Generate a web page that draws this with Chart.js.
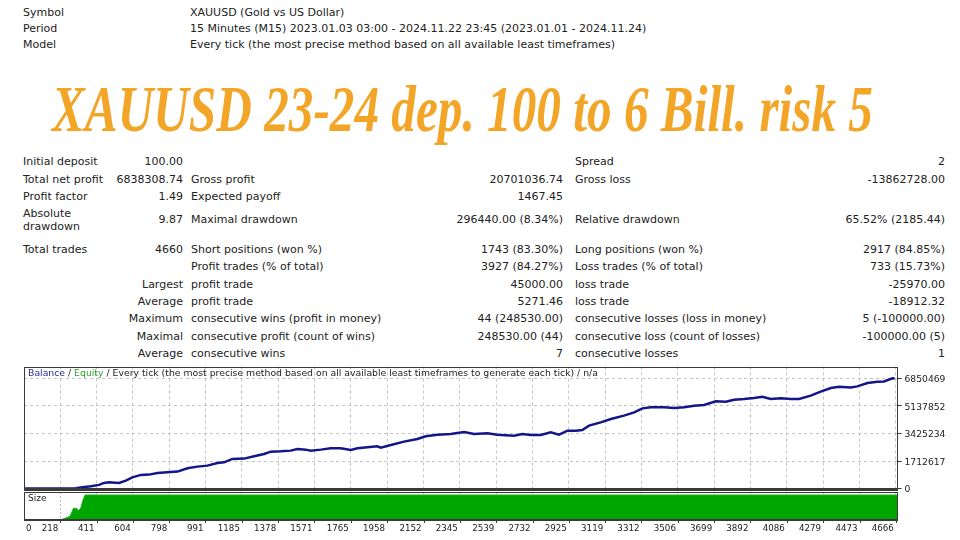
<!DOCTYPE html>
<html><head><meta charset="utf-8">
<script src="https://cdn.jsdelivr.net/npm/chart.js@4.4.1/dist/chart.umd.min.js"></script>
<style>
html,body{margin:0;padding:0;background:#fff;width:960px;height:540px;overflow:hidden;}
.t{position:absolute;font-family:"DejaVu Sans";font-size:11px;color:#222;white-space:pre;line-height:12px;}
#title{position:absolute;left:52px;top:76px;font-family:"Liberation Serif";font-style:italic;font-weight:bold;font-size:66px;line-height:66px;color:#F3A527;transform-origin:0 0;white-space:nowrap;display:inline-block;}
canvas{position:absolute;left:0;}
</style></head><body>
<div id="title">XAUUSD 23-24 dep. 100 to 6 Bill. risk 5</div>
<canvas id="c1" width="960" height="132" style="top:360px"></canvas>
<canvas id="c2" width="960" height="50" style="top:490px"></canvas>
<script>
// ---------- text data ----------
const headerLabels = ["Symbol", "Period", "Model"];
const headerValues = [
  "XAUUSD (Gold vs US Dollar)",
  "15 Minutes (M15) 2023.01.03 03:00 - 2024.11.22 23:45 (2023.01.01 - 2024.11.24)",
  "Every tick (the most precise method based on all available least timeframes)"
];
const colALabel = ["Initial deposit","Total net profit","Profit factor","Absolute\ndrawdown","Total trades","","","","","",""];
const colAValue = ["100.00","6838308.74","1.49","9.87","4660","","Largest","Average","Maximum","Maximal","Average"];
const colBLabel = ["","Gross profit","Expected payoff","Maximal drawdown","Short positions (won %)","Profit trades (% of total)","profit trade","profit trade","consecutive wins (profit in money)","consecutive profit (count of wins)","consecutive wins"];
const colBValue = ["","20701036.74","1467.45","296440.00 (8.34%)","1743 (83.30%)","3927 (84.27%)","45000.00","5271.46","44 (248530.00)","248530.00 (44)","7"];
const colCLabel = ["Spread","Gross loss","","Relative drawdown","Long positions (won %)","Loss trades (% of total)","loss trade","loss trade","consecutive losses (loss in money)","consecutive loss (count of losses)","consecutive losses"];
const colCValue = ["2","-13862728.00","","65.52% (2185.44)","2917 (84.85%)","733 (15.73%)","-25970.00","-18912.32","5 (-100000.00)","-100000.00 (5)","1"];

// ---------- chart data ----------
const balanceTrades = [0,150,250,300,336,381,425,451,478,531,567,602,647,691,735,788,842,895,948,1001,
  1055,1090,1134,1197,1250,1303,1339,1392,1445,1480,1525,1552,1605,1658,1711,1765,1800,1853,1906,1924,
  1978,2048,2119,2164,2226,2297,2332,2368,2421,2492,2545,2634,2678,2723,2776,2829,2873,2918,2962,2997,
  3033,3095,3149,3219,3273,3317,3362,3432,3486,3539,3592,3645,3708,3761,3805,3858,3911,3956,4000,4054,
  4107,4151,4213,4266,4320,4364,4426,4461,4515,4568,4603,4648,4660];
const balanceValues = [100,450,5200,28000,80700,142700,229600,353700,390900,353700,496400,701200,850100,868700,974200,1011400,1054900,1259700,1365100,1427200,
  1594700,1632000,1843000,1861600,2004300,2153200,2295900,2314500,2358000,2463500,2420000,2358000,2420000,2500700,2500700,2401400,2500700,2562700,2624800,2544100,
  2711700,2916400,3084000,3245300,3350800,3394200,3456300,3518400,3394200,3431500,3350800,3288800,3394200,3332200,3332200,3493500,3350800,3599000,3599000,3642500,
  3909300,4114000,4325000,4529800,4734600,4982800,5044800,5044800,5007600,5057200,5150300,5193800,5417100,5398500,5522600,5566100,5628100,5708800,5566100,5603300,
  5566100,5566100,5770800,6019000,6248600,6329300,6285900,6347900,6558900,6639600,6658200,6850469,6838409];
const sizeTrades = [0,120,219,244,270,288,302,315,327,338,350,4675];
const sizeLots   = [0.01,0.05,0.3,3.5,7.5,23,23.5,19,23.5,39,50,50];
const xTickLabels = [0,218,411,604,798,991,1185,1378,1571,1765,1958,2152,2345,2539,2732,2925,3119,3312,3506,3699,3892,4086,4279,4473,4666];
const yTickLabels = [0,1712617,3425234,5137852,6850469];
const xRange = [25, 4675];
const yRange = [-87000, 7583000];
const sizeRange = [0, 56];

// ---------- layout of text ----------
const headerY = [13, 29, 45];
const rowY = [162, 180, 197, 220, 250, 267, 285, 302, 319, 337, 354];
function addText(txt, x, yc, align, lh) {
  if (!txt) return;
  const d = document.createElement('div');
  d.className = 't';
  d.textContent = txt;
  const lines = txt.split('\n').length;
  const l = lh || 12;
  d.style.lineHeight = l + 'px';
  d.style.top = (yc - l * lines / 2) + 'px';
  if (align === 'right') { d.style.right = (960 - x) + 'px'; d.style.textAlign = 'right'; }
  else d.style.left = x + 'px';
  document.body.appendChild(d);
}
headerLabels.forEach((s, i) => { addText(s, 23, headerY[i]); addText(headerValues[i], 190, headerY[i]); });
rowY.forEach((y, i) => {
  addText(colALabel[i], 23, y, 'left', colALabel[i].includes('\n') ? 13 : 12);
  addText(colAValue[i], 183, y, 'right');
  addText(colBLabel[i], 191, y);
  addText(colBValue[i], 563, y, 'right');
  addText(colCLabel[i], 575, y);
  addText(colCValue[i], 945, y, 'right');
});
// title fit
const tEl = document.getElementById('title');
const tw = tEl.getBoundingClientRect().width;
tEl.style.transform = 'scaleX(' + (821 / tw) + ')';

// ---------- charts ----------
const FONT = '"DejaVu Sans"';
const gridGrey = '#c4c4c4';
const frameColor = '#3a3a3a';

const balancePts = balanceTrades.map((t, i) => ({x: t, y: balanceValues[i]}));
const sizePts = sizeTrades.map((t, i) => ({x: t, y: sizeLots[i]}));
const noPad = s => { s.paddingTop = 0; s.paddingBottom = 0; s.paddingLeft = 0; s.paddingRight = 0; };

const frame1 = {
  id: 'frame1',
  afterDraw(chart) {
    const {ctx, chartArea: a} = chart;
    ctx.save();
    ctx.strokeStyle = frameColor; ctx.lineWidth = 1;
    ctx.strokeRect(Math.round(a.left) + 0.5, Math.round(a.top) + 0.5, Math.round(a.right - a.left) - 1, Math.round(a.bottom - a.top) - 1);
    ctx.fillStyle = frameColor;
    ctx.fillRect(Math.round(a.left), Math.round(a.bottom) - 2, Math.round(a.right - a.left), 2);
    // header text
    ctx.font = '9.3px ' + FONT;
    ctx.textBaseline = 'middle';
    let x = a.left + 4; const y = a.top + 7;
    const segs = [['Balance', '#2a2a9c'], [' / ', '#222'], ['Equity', '#2ea82e'],
      [' / Every tick (the most precise method based on all available least timeframes to generate each tick) / n/a', '#222']];
    segs.forEach(([s, c]) => { ctx.fillStyle = c; ctx.fillText(s, x, y); x += ctx.measureText(s).width; });
    ctx.restore();
  }
};

new Chart(document.getElementById('c1'), {
  type: 'line',
  data: {datasets: [{data: balancePts, borderColor: '#15158a', borderWidth: 2.5, pointRadius: 0, tension: 0, fill: false}]},
  options: {
    responsive: false, animation: false, devicePixelRatio: 1,
    layout: {padding: {left: 24, top: 6.5, right: 0, bottom: 2}},
    plugins: {legend: {display: false}, tooltip: {enabled: false}},
    scales: {
      x: {
        type: 'linear', min: xRange[0], max: xRange[1],
        afterBuildTicks: s => { s.ticks = xTickLabels.filter(v => v >= xRange[0]).map(v => ({value: v})); },
        afterFit: s => { s.height = 0; noPad(s); },
        ticks: {display: false},
        grid: {color: gridGrey, lineWidth: 1, drawTicks: false},
        border: {display: false, dash: [3, 3]}
      },
      y: {
        position: 'right', min: yRange[0], max: yRange[1],
        afterBuildTicks: s => { s.ticks = yTickLabels.map(v => ({value: v})); },
        afterFit: s => { s.width = 62.5; noPad(s); },
        ticks: {color: '#222', font: {family: FONT, size: 9.2}, padding: 3, labelOffset: 1.5, callback: v => String(v)},
        grid: {color: c => (c.tick && c.tick.value === 0) ? 'rgba(0,0,0,0)' : gridGrey, lineWidth: 1, drawTicks: true, tickLength: 4, tickColor: frameColor},
        border: {display: false, dash: [3, 3]}
      }
    }
  },
  plugins: [frame1]
});

const frame2 = {
  id: 'frame2',
  afterDraw(chart) {
    const {ctx, chartArea: a} = chart;
    const xs = chart.scales.x;
    ctx.save();
    ctx.strokeStyle = frameColor; ctx.lineWidth = 1;
    ctx.strokeRect(Math.round(a.left) + 0.5, Math.round(a.top) + 0.5, Math.round(a.right - a.left) - 1, Math.round(a.bottom - a.top));
    ctx.fillStyle = frameColor;
    ctx.fillRect(Math.round(a.left), Math.round(a.bottom) - 1, Math.round(a.right - a.left), 2);
    ctx.fillStyle = '#222';
    ctx.font = '9px ' + FONT;
    ctx.textBaseline = 'middle';
    ctx.fillText('Size', a.left + 4, a.top + 7);
    ctx.font = '8.7px ' + FONT;
    xTickLabels.forEach(v => {
      const px = xs.getPixelForValue(Math.max(v, xRange[0]));
      if (v >= xRange[0]) {
        ctx.fillStyle = frameColor;
        ctx.fillRect(Math.round(px), Math.round(a.bottom), 1, 3);
      }
      ctx.fillStyle = '#222';
      if (v < xRange[0]) { ctx.textAlign = 'left'; ctx.fillText(String(v), a.left + 2, a.bottom + 8.5); }
      else { ctx.textAlign = 'right'; ctx.fillText(String(v), px - 2, a.bottom + 8.5); }
    });
    ctx.restore();
  }
};

new Chart(document.getElementById('c2'), {
  type: 'line',
  data: {datasets: [{data: sizePts, borderColor: '#1faf1f', borderWidth: 1, backgroundColor: '#00a600', pointRadius: 0, tension: 0, fill: 'origin'}]},
  options: {
    responsive: false, animation: false, devicePixelRatio: 1,
    layout: {padding: {left: 24, top: 2, right: 62.5, bottom: 20}},
    plugins: {legend: {display: false}, tooltip: {enabled: false}},
    scales: {
      x: {
        type: 'linear', min: xRange[0], max: xRange[1],
        afterBuildTicks: s => { s.ticks = xTickLabels.filter(v => v >= xRange[0]).map(v => ({value: v})); },
        afterFit: s => { s.height = 0; noPad(s); },
        ticks: {display: false},
        grid: {color: '#e3a6a6', lineWidth: 1, drawTicks: false},
        border: {display: false, dash: [2, 2]}
      },
      y: {display: false, min: sizeRange[0], max: sizeRange[1]}
    }
  },
  plugins: [frame2]
});
</script>
</body></html>
